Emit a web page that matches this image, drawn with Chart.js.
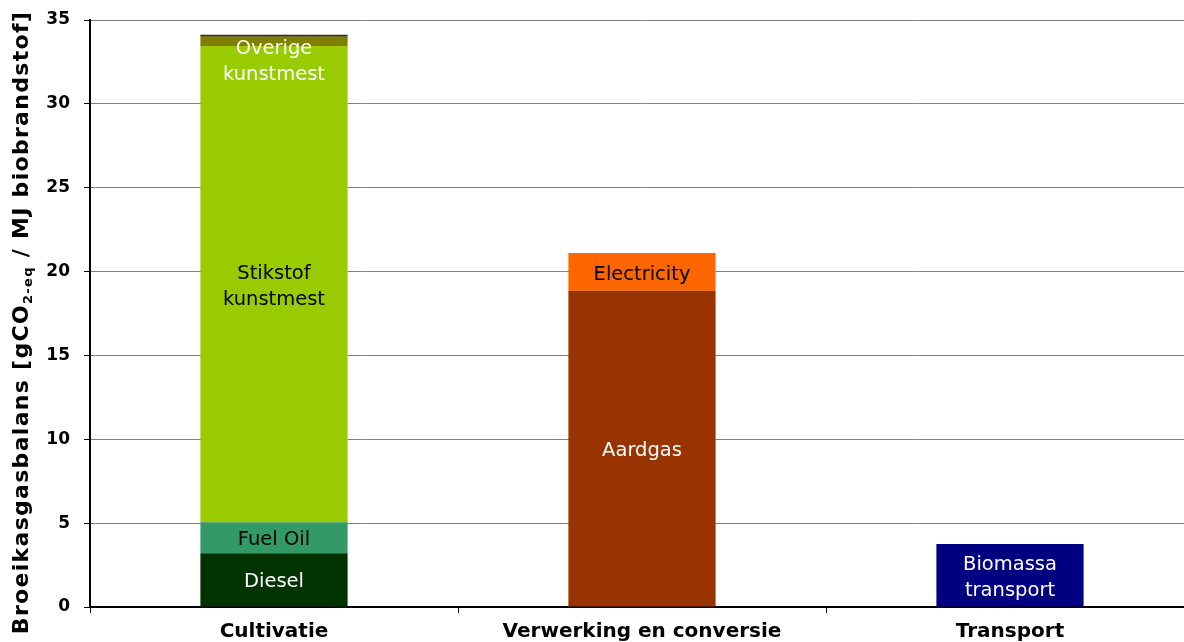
<!DOCTYPE html>
<html>
<head>
<meta charset="utf-8">
<script src="https://cdn.jsdelivr.net/npm/chart.js@4.4.1/dist/chart.umd.min.js"></script>
<style>
  html, body { margin: 0; padding: 0; background: #fff; overflow: hidden; }
  #wrap { position: relative; width: 1194px; height: 642px; }
</style>
</head>
<body>
<div id="wrap"><canvas id="ghgChart"></canvas></div>
<script>
// Greenhouse gas balance per chain step (gCO2-eq / MJ biofuel)
const categories = ['Cultivatie', 'Verwerking en conversie', 'Transport'];

const diesel      = [3.2, null, null];
const fuelOil     = [1.85, null, null];
const stikstof    = [28.4, null, null];
const overige     = [0.55, null, null];
const restant     = [0.12, null, null];
const aardgas     = [null, 18.85, null];
const electricity = [null, 2.25, null];
const biomassa    = [null, null, 3.75];

const yTicks = [0, 5, 10, 15, 20, 25, 30, 35];

// segment text drawn inside the bars
const segmentLabels = [
  { text: ['Diesel'], color: '#ffffff' },
  { text: ['Fuel Oil'], color: '#000000' },
  { text: ['Stikstof', 'kunstmest'], color: '#000000' },
  { text: ['Overige', 'kunstmest'], color: '#ffffff', anchor: 'top' },
  { text: [], color: '#ffffff' },
  { text: ['Aardgas'], color: '#ffffff' },
  { text: ['Electricity'], color: '#000000' },
  { text: ['Biomassa', 'transport'], color: '#ffffff' }
];

const barLabelPlugin = {
  id: 'barLabels',
  afterDatasetsDraw(chart) {
    const ctx = chart.ctx;
    ctx.save();
    ctx.font = '19.5px "DejaVu Sans"';
    ctx.textAlign = 'center';
    ctx.textBaseline = 'middle';
    const lineH = 26;
    chart.data.datasets.forEach((ds, i) => {
      const cfg = segmentLabels[i];
      if (!cfg || !cfg.text.length) return;
      const meta = chart.getDatasetMeta(i);
      meta.data.forEach((bar, j) => {
        if (ds.data[j] == null) return;
        const top = Math.min(bar.y, bar.base);
        const bottom = Math.max(bar.y, bar.base);
        let y0;
        if (cfg.anchor === 'top') {
          y0 = top + 12;
        } else {
          y0 = (top + bottom) / 2 - (cfg.text.length - 1) * lineH / 2 + 2.5;
        }
        ctx.fillStyle = cfg.color;
        cfg.text.forEach((line, k) => ctx.fillText(line, bar.x, y0 + k * lineH));
      });
    });
    ctx.restore();
  }
};

// rotated y-axis title with a subscript part
const axisTitlePlugin = {
  id: 'axisTitle',
  afterDraw(chart) {
    const ctx = chart.ctx;
    const area = chart.chartArea;
    const parts = [
      { t: 'Broeikasgasbalans [gCO', font: 'bold 22px "DejaVu Sans"', dy: 0 },
      { t: '2-eq', font: 'bold 13px "DejaVu Sans"', dy: 4 },
      { t: ' / MJ biobrandstof]', font: 'bold 22px "DejaVu Sans"', dy: 0 }
    ];
    ctx.save();
    ctx.letterSpacing = '1.3px';
    let total = 0;
    parts.forEach(p => { ctx.font = p.font; p.w = ctx.measureText(p.t).width; total += p.w; });
    ctx.translate(28, (area.top + area.bottom) / 2 + 9);
    ctx.rotate(-Math.PI / 2);
    ctx.fillStyle = '#000';
    ctx.textBaseline = 'alphabetic';
    ctx.textAlign = 'left';
    let x = -total / 2;
    parts.forEach(p => {
      ctx.font = p.font;
      ctx.fillText(p.t, x, p.dy);
      x += p.w;
    });
    ctx.restore();
  }
};

function makeSet(label, data, color) {
  return {
    label: label,
    data: data,
    backgroundColor: color,
    borderWidth: 0,
    barPercentage: 0.4,
    categoryPercentage: 1.0,
    stack: 'keten'
  };
}

const ctx = document.getElementById('ghgChart').getContext('2d');
new Chart(ctx, {
  type: 'bar',
  data: {
    labels: categories,
    datasets: [
      makeSet('Diesel', diesel, '#003300'),
      makeSet('Fuel Oil', fuelOil, '#339966'),
      makeSet('Stikstof kunstmest', stikstof, '#99cc00'),
      makeSet('Overige kunstmest', overige, '#808000'),
      makeSet('Overig', restant, '#333300'),
      makeSet('Aardgas', aardgas, '#993300'),
      makeSet('Electricity', electricity, '#ff6600'),
      makeSet('Biomassa transport', biomassa, '#000080')
    ]
  },
  options: {
    responsive: true,
    maintainAspectRatio: false,
    animation: false,
    layout: { padding: { top: 20, right: 0, left: 0, bottom: 0 } },
    plugins: {
      legend: { display: false },
      tooltip: { enabled: false }
    },
    scales: {
      x: {
        stacked: true,
        offset: true,
        grid: {
          display: true,
          drawOnChartArea: false,
          offset: true,
          tickLength: 6,
          tickColor: '#000'
        },
        border: { color: '#000', width: 2 },
        ticks: {
          color: '#000',
          padding: 7,
          maxRotation: 0,
          font: { family: 'DejaVu Sans', weight: 'bold', size: 20 }
        },
        afterFit(scale) { scale.height = 35; }
      },
      y: {
        stacked: true,
        min: 0,
        max: 35,
        afterBuildTicks(scale) { scale.ticks = yTicks.map(v => ({ value: v })); },
        grid: {
          color: '#808080',
          lineWidth: 1,
          tickLength: 6,
          tickColor: '#000'
        },
        border: { color: '#000', width: 2 },
        ticks: {
          color: '#000',
          padding: 14,
          font: { family: 'DejaVu Sans', weight: 'bold', size: 17 }
        },
        afterFit(scale) {
          scale.width = 90;
          scale.paddingTop = 0;
          scale.paddingBottom = 0;
        }
      }
    }
  },
  plugins: [barLabelPlugin, axisTitlePlugin]
});
</script>
</body>
</html>
